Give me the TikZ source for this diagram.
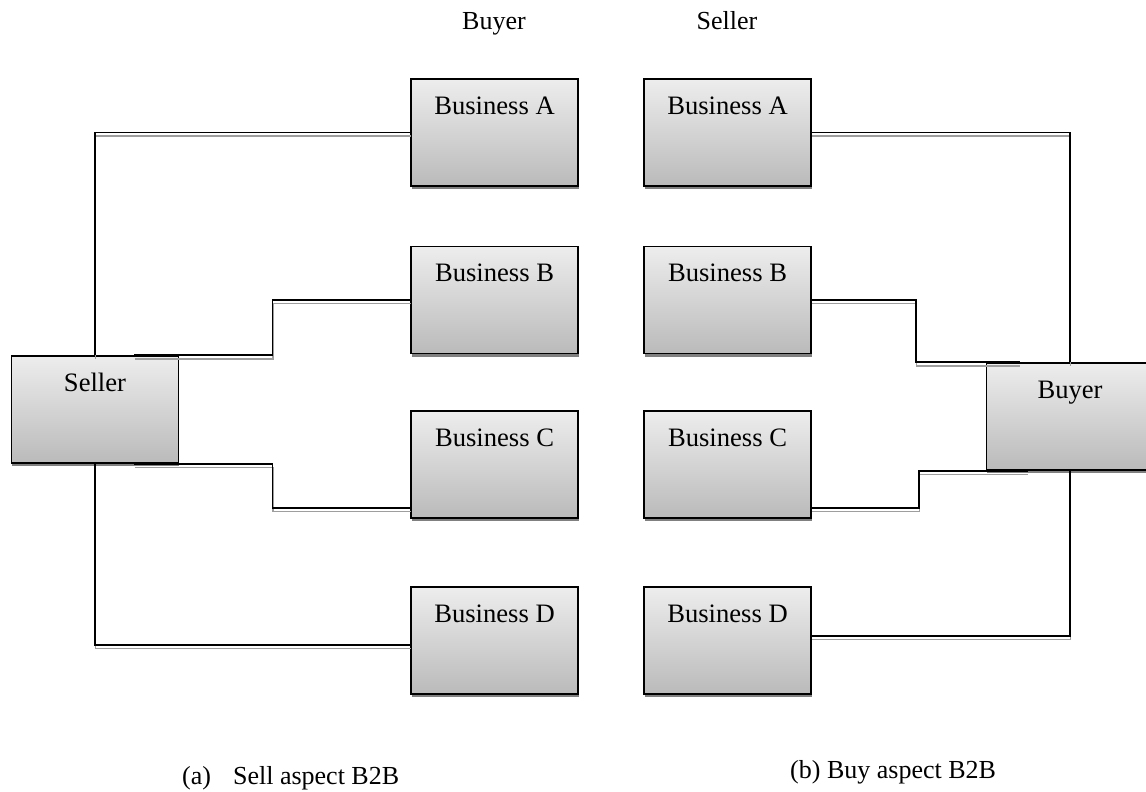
\documentclass[tikz,border=0pt]{standalone}
\usepackage{fontspec}
\setmainfont{Liberation Serif}
\usetikzlibrary{shadows}
\begin{document}
\begin{tikzpicture}[x=1pt, y=-1pt,
  font=\fontsize{26}{30}\selectfont,
  party/.style={rectangle, draw=black, line width=1.8pt, inner sep=0pt,
    minimum width=167pt, minimum height=107pt,
    top color=black!7, bottom color=black!27,
    drop shadow={shadow xshift=0.8pt, shadow yshift=-3.2pt, fill=black!50, opacity=1}},
  boxtext/.style={anchor=base, inner sep=0pt},
  intext/.style={boxtext, font=\fontsize{26.6}{30}\selectfont},
  caption/.style={anchor=base west, inner sep=0pt},
  link/.style={draw=black, line width=1.8pt,
    preaction={draw=black!38, line width=1.7pt,
      transform canvas={xshift=0.5pt, yshift=-3.6pt}}}]

\useasboundingbox (0,0) rectangle (1146,792);
\clip (0,0) rectangle (1146,792);

% column headings
\node[boxtext] (hbuy) at (494,30) {Buyer};
\node[boxtext] (hsel) at (727,30) {Seller};

% (a) sell side: one seller, four businesses
\node[party] (sel) at (95,409.5) {};
\node[party] (la) at (494.5,132.5) {};
\node[party] (lb) at (494.5,300) {};
\node[party] (lc) at (494.5,464.5) {};
\node[party] (ld) at (494.5,640.5) {};

% (b) buy side: four businesses, one buyer
\node[party] (ra) at (727.5,132.5) {};
\node[party] (rb) at (727.5,300) {};
\node[party] (rc) at (727.5,464.5) {};
\node[party] (rd) at (727.5,640.5) {};
\node[party] (buy) at (1070,416.5) {};

% box labels, set near the top edge
\node[intext] (tsel) at ([yshift=-36pt]sel.north) {Seller};
\node[intext] (tla) at ([yshift=-36pt]la.north) {Business A};
\node[intext] (tlb) at ([yshift=-36pt]lb.north) {Business B};
\node[intext] (tlc) at ([yshift=-36pt]lc.north) {Business C};
\node[intext] (tld) at ([yshift=-36pt]ld.north) {Business D};
\node[intext] (tra) at ([yshift=-36pt]ra.north) {Business A};
\node[intext] (trb) at ([yshift=-36pt]rb.north) {Business B};
\node[intext] (trc) at ([yshift=-36pt]rc.north) {Business C};
\node[intext] (trd) at ([yshift=-36pt]rd.north) {Business D};
\node[intext] (tbuy) at ([yshift=-36pt]buy.north) {Buyer};

% connectors, seller side
\path[link] (sel.north) |- (la.west);
\path[link] ([xshift=-45pt]sel.north east) -- ([xshift=93pt]sel.north east) |- (lb.west);
\path[link] ([xshift=-45pt]sel.south east) -- ([xshift=93pt]sel.south east) |- ([yshift=-43.5pt]lc.west);
\path[link] (sel.south) |- ([yshift=-4.5pt]ld.west);

% connectors, buyer side
\path[link] (ra.east) -| (buy.north);
\path[link] (rb.east) -- ([xshift=104pt]rb.east) |- ([xshift=34pt]buy.north west);
\path[link] ([yshift=-43.5pt]rc.east) -- ([xshift=107pt,yshift=-43.5pt]rc.east) |- ([xshift=42pt]buy.south west);
\path[link] ([yshift=4.5pt]rd.east) -| (buy.south);

% captions
\node[caption] (capa) at (182,784) {(a)\hspace{22pt}Sell aspect B2B};
\node[caption] (capb) at (790,778) {(b) Buy aspect B2B};
\end{tikzpicture}
\end{document}
